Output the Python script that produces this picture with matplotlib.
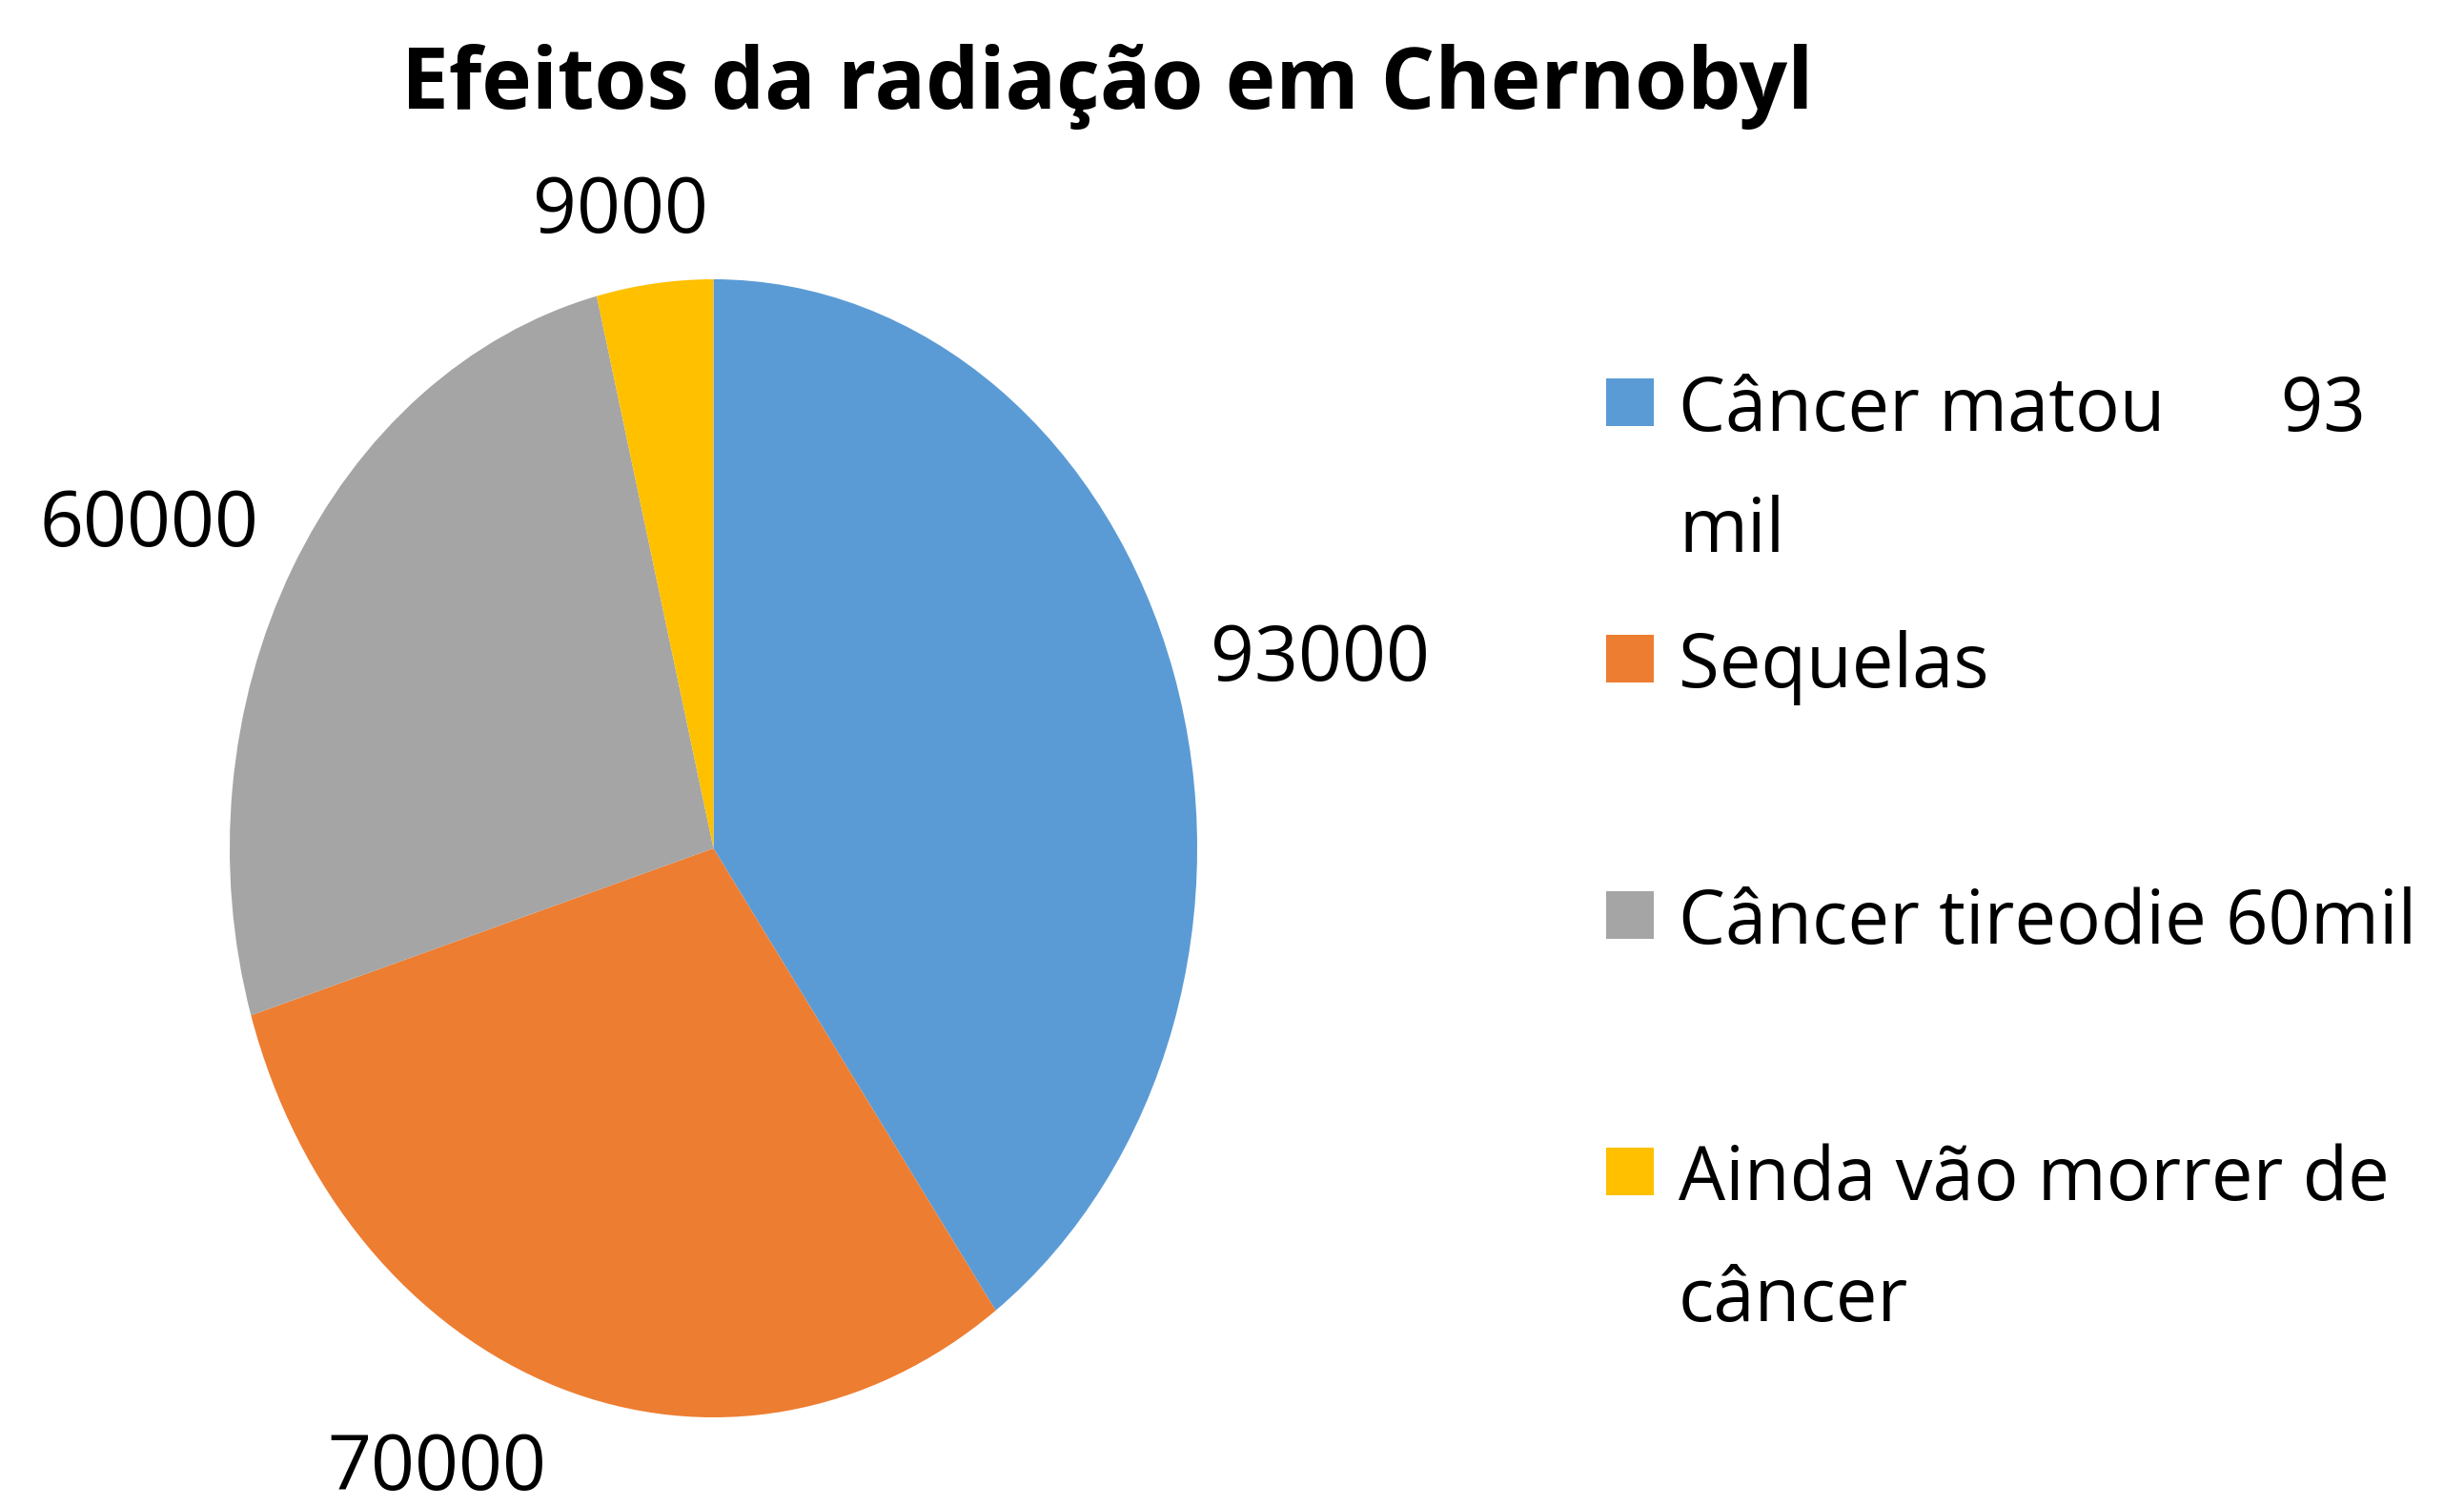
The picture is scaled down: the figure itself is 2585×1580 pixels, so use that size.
import numpy as np
import matplotlib
matplotlib.use('Agg')
import matplotlib.pyplot as plt
from matplotlib.patches import Rectangle

plt.rcParams['font.family'] = ['Open Sans', 'DejaVu Sans']

TITLE = 'Efeitos da radiação em Chernobyl'
categories = ['Câncer matou      93\nmil', 'Sequelas', 'Câncer tireodie 60mil',
              'Ainda vão morrer de\ncâncer']
values = [93000, 70000, 60000, 9000]
colors = ['#5B9BD5', '#ED7D31', '#A5A5A5', '#FFC000']

W, H = 2585, 1580
fig = plt.figure(figsize=(W / 100, H / 100), dpi=100)

# pie is drawn as an ellipse (taller than wide), like the original
ax = fig.add_axes([241 / W, 93 / H, 1015 / W, 1194 / H])
wedges, _ = ax.pie(values, colors=colors, startangle=90, counterclock=False,
                   wedgeprops=dict(linewidth=0))
ax.set_aspect('auto')
ax.set_xlim(-1, 1)
ax.set_ylim(-1, 1)
ax.axis('off')

# data labels just outside each wedge, aligned away from the centre
for w, v in zip(wedges, values):
    ang = np.deg2rad((w.theta1 + w.theta2) / 2)
    c, s = np.cos(ang), np.sin(ang)
    x, y = 1.08 * c, 1.08 * s
    ha = 'left' if c > 0.3 else ('right' if c < -0.3 else 'center')
    va = 'baseline' if s > 0.4 else ('top' if s < -0.4 else 'center')
    if ha == 'center':
        x -= 0.06
        y += 0.01
    ax.text(x, y, str(v), ha=ha, va=va, fontsize=58, clip_on=False)

fig.text(1162 / W, 1 - 91 / H, TITLE, ha='center', va='center',
         fontsize=64, fontweight='bold')

# legend, one slot per entry, text wraps like in the source
sq = 50
for i, (lab, col) in enumerate(zip(categories, colors)):
    yc = 422 + i * 269
    fig.add_artist(Rectangle((1685 / W, 1 - (yc + sq / 2) / H), sq / W, sq / H,
                             transform=fig.transFigure, color=col, lw=0))
    for j, line in enumerate(lab.split('\n')):
        fig.text(1761 / W, 1 - (yc + j * 127) / H, line, ha='left',
                 va='center_baseline', fontsize=56)

fig.savefig('out.png', dpi=100, facecolor='white')
